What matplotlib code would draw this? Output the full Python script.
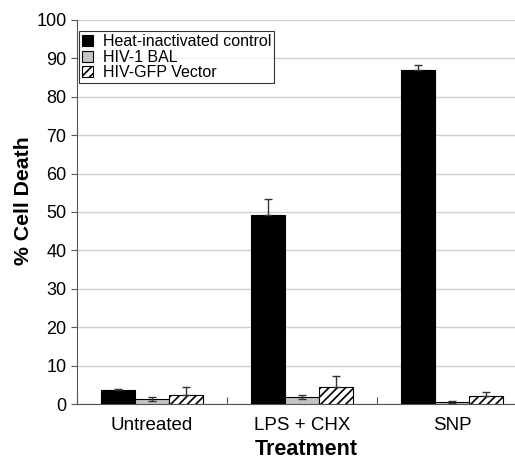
import numpy as np
import matplotlib.pyplot as plt

plt.rcParams['font.family'] = ['Liberation Sans', 'DejaVu Sans']
plt.rcParams['hatch.linewidth'] = 1.2

treatments = ["Untreated", "LPS + CHX", "SNP"]
series = ["Heat-inactivated control", "HIV-1 BAL", "HIV-GFP Vector"]
heat = [3.6, 49.3, 86.9]
heat_err = [0.3, 4.2, 1.5]
bal = [1.2, 1.8, 0.5]
bal_err = [0.5, 0.6, 0.3]
gfp = [2.4, 4.4, 2.0]
gfp_err = [2.0, 2.8, 1.2]

fig = plt.figure(figsize=(5.15, 4.61), dpi=100)
ax = fig.add_axes([77/515, 1-404/461, 450/515, 384/461])

x = np.arange(len(treatments))
w = 0.228
ax.bar(x - w, heat, w, color="black", edgecolor="black", linewidth=0.8, label=series[0], zorder=3)
ax.bar(x, bal, w, color="#c4c4c4", edgecolor="black", linewidth=0.8, label=series[1], zorder=3)
ax.bar(x + w, gfp, w, color="white", edgecolor="black", hatch="////", linewidth=0.8, label=series[2], zorder=3)

ekw = dict(fmt="none", ecolor="#333333", elinewidth=1, capsize=3, zorder=4)
ax.errorbar(x - w, heat, yerr=[np.zeros(3), heat_err], **ekw)
ax.errorbar(x, bal, yerr=bal_err, **ekw)
ax.errorbar(x + w, gfp, yerr=[np.zeros(3), gfp_err], **ekw)

ax.set_xlim(-0.5, 2.5)
ax.set_ylim(0, 100)
ax.set_yticks(range(0, 101, 10))
ax.yaxis.grid(True, color="#d0d0d0", linewidth=1, zorder=0)
ax.set_xticks([-0.5, 0.5, 1.5, 2.5])
ax.set_xticklabels([])
ax.set_xticks(x, minor=True)
ax.set_xticklabels(treatments, minor=True, fontsize=13.5)
ax.tick_params(axis="x", which="minor", length=0, pad=9)
ax.tick_params(axis="x", which="major", direction="in", length=5, color="#555555")
ax.tick_params(axis="y", direction="out", length=4, labelsize=13, color="#555555")
for s in ["top", "right"]:
    ax.spines[s].set_visible(False)
ax.spines["left"].set_color("#555555")
ax.spines["bottom"].set_color("#555555")

ax.set_ylabel("% Cell Death", fontsize=15.3, fontweight="bold")
ax.set_xlabel("Treatment", fontsize=15.5, fontweight="bold")
ax.yaxis.set_label_coords(-0.098, 0.529)
ax.xaxis.set_label_coords(0.509, -0.091)

leg = ax.legend(loc="upper left", bbox_to_anchor=(0.0, 0.975), fontsize=11.5, frameon=True,
                fancybox=False, edgecolor="black", handlelength=0.7, handleheight=0.7,
                handletextpad=0.6, borderpad=0.2, labelspacing=0.02, borderaxespad=0.1)
leg.get_frame().set_linewidth(0.8)

fig.savefig("out.png", dpi=100)
